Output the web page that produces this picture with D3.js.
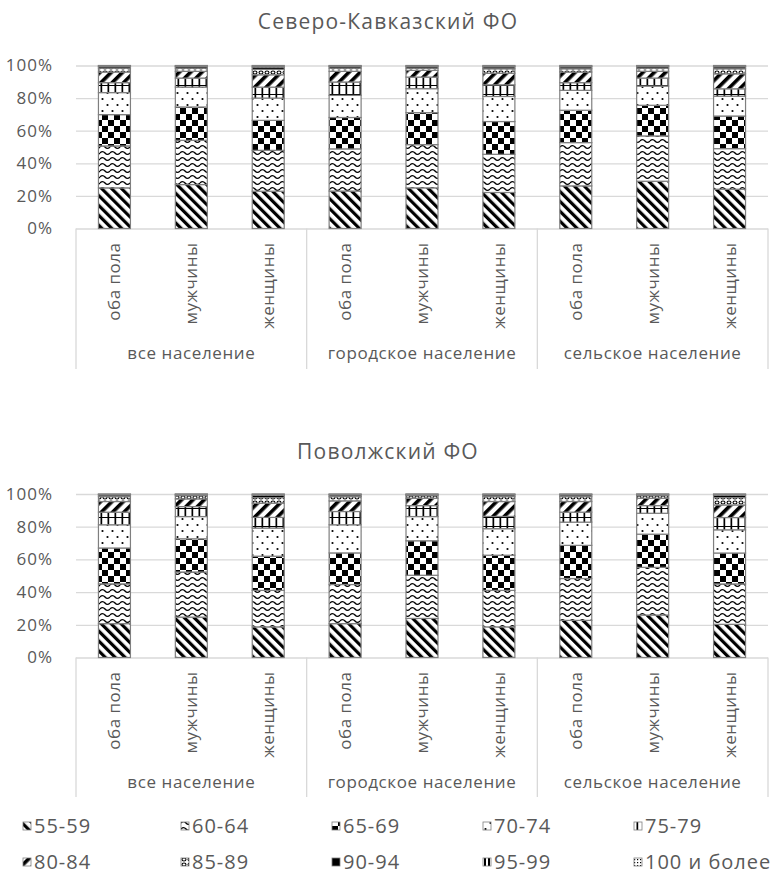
<!DOCTYPE html>
<html><head><meta charset="utf-8">
<script src="https://cdn.jsdelivr.net/npm/d3@7"></script>
<style>
body{margin:0;background:#fff}
svg{display:block}
text{font-family:"Open Sans",sans-serif;fill:#595959}
</style>
</head><body>
<svg id="c" width="776" height="874"></svg>
<script>
// ---- data ----
const ageGroups = ["55-59","60-64","65-69","70-74","75-79","80-84","85-89","90-94","95-99","100 и более"];
const sexLabels = ["оба пола","мужчины","женщины"];
const settlementLabels = ["все население","городское население","сельское население"];
const tickValues = [0,0.2,0.4,0.6,0.8,1];
const tickLabels = ["0%","20%","40%","60%","80%","100%"];
const chartTitles = ["Северо-Кавказский ФО","Поволжский ФО"];
// rows: все/оба, все/муж, все/жен, гор/оба, гор/муж, гор/жен, сел/оба, сел/муж, сел/жен
// columns: age groups 55-59 ... 100 и более (%)
const skfoValues = [
  [24.9,25.7,19.2,13.5,6.1,6.5,2.4,1.0,0.4,0.2],
  [26.9,27.1,20.4,12.2,5.5,4.1,2.0,1.0,0.4,0.2],
  [22.9,25.1,18.4,13.7,6.7,7.6,3.3,1.4,0.7,0.3],
  [22.9,25.8,19.2,13.5,8.2,6.5,2.0,1.0,0.4,0.2],
  [24.9,26.5,19.6,14.7,7.1,4.1,1.4,1.0,0.4,0.2],
  [22.0,23.3,20.0,15.3,7.1,7.1,2.7,1.2,0.5,0.3],
  [26.1,26.5,19.8,12.2,4.7,6.5,2.0,1.2,0.5,0.3],
  [29.0,27.8,18.8,11.8,4.9,4.1,2.0,1.0,0.4,0.2],
  [24.1,24.9,20.0,12.2,4.5,9.2,3.1,1.2,0.5,0.3]
];
const pfoValues = [
  [20.7,24.3,21.9,14.2,7.7,6.5,3.0,1.0,0.4,0.2],
  [24.7,27.6,20.3,13.6,6.1,4.7,2.0,0.6,0.3,0.1],
  [18.7,22.3,20.9,17.2,6.5,8.7,3.4,1.4,0.6,0.2],
  [20.7,23.9,19.3,17.2,8.1,6.5,2.6,1.0,0.4,0.2],
  [23.9,26.4,21.1,14.8,6.7,4.5,1.6,0.6,0.3,0.1],
  [18.7,22.3,21.5,16.2,7.5,9.1,3.0,1.0,0.4,0.2],
  [22.7,25.6,20.3,14.2,6.1,6.5,3.0,1.0,0.4,0.2],
  [26.0,29.2,20.3,12.8,4.7,4.5,1.6,0.6,0.3,0.1],
  [20.3,24.7,18.9,14.2,7.5,7.7,4.5,1.4,0.6,0.2]
];

// ---- drawing ----
const svg = d3.select("#c");
const defs = svg.append("defs");
function pat(id, w, h, transform, draw){
  const p = defs.append("pattern").attr("id", id).attr("patternUnits","userSpaceOnUse")
    .attr("width", w).attr("height", h);
  if (transform) p.attr("patternTransform", transform);
  p.append("rect").attr("width", w).attr("height", h).attr("fill","#fff");
  draw(p);
}
pat("p0", 7, 7, "rotate(-45)", p => p.append("rect").attr("width",3.2).attr("height",7).attr("fill","#000"));
pat("p1", 10, 6, null, p => p.append("path").attr("d","M0,3 Q2.5,0.2 5,3 T10,3").attr("fill","none").attr("stroke","#000").attr("stroke-width",1.4));
pat("p2", 12, 12, null, p => { p.append("rect").attr("width",6).attr("height",6).attr("fill","#000");
  p.append("rect").attr("x",6).attr("y",6).attr("width",6).attr("height",6).attr("fill","#000"); });
pat("p3", 10, 12, null, p => { p.append("circle").attr("cx",2.5).attr("cy",3).attr("r",1.1).attr("fill","#000");
  p.append("circle").attr("cx",7.5).attr("cy",9).attr("r",1.1).attr("fill","#000"); });
pat("p4", 7, 9, null, p => { p.append("rect").attr("x",2.5).attr("width",1.7).attr("height",9).attr("fill","#000");
  p.append("rect").attr("y",4).attr("width",7).attr("height",1).attr("fill","#000"); });
pat("p5", 8, 8, "rotate(45)", p => p.append("rect").attr("width",3.6).attr("height",8).attr("fill","#000"));
pat("p6", 6, 5, null, p => p.append("ellipse").attr("cx",3).attr("cy",2.5).attr("rx",2).attr("ry",1.5).attr("fill","none").attr("stroke","#000").attr("stroke-width",1.1));
pat("p7", 4, 4, null, p => p.append("rect").attr("width",4).attr("height",4).attr("fill","#000"));
pat("p8", 4, 4, null, p => p.append("rect").attr("x",1).attr("width",2).attr("height",4).attr("fill","#000"));
pat("p9", 3, 3, null, p => p.append("rect").attr("width",1.2).attr("height",1.2).attr("fill","#000"));

const plotLeft = 76, plotRight = 768;
const x = d3.scaleBand().domain(d3.range(9)).range([plotLeft, plotRight])
  .paddingInner(0.584).paddingOuter(0.292);

function drawChart(values, title, cfg){
  const g = svg.append("g");
  const y = d3.scaleLinear().domain([0,1]).range([cfg.y0, cfg.y1]);
  g.append("text").attr("x", 388).attr("y", cfg.titleY).attr("dy","0.35em")
    .attr("text-anchor","middle").style("font-size","21px").style("letter-spacing","1.2px").text(title);

  const axis = d3.axisLeft(y).tickValues(tickValues).tickFormat((d,i)=>tickLabels[i])
    .tickSize(-(plotRight - plotLeft)).tickPadding(23);
  const ag = g.append("g").attr("transform", `translate(${plotLeft},0)`).call(axis);
  ag.select(".domain").remove();
  ag.selectAll("line").attr("stroke","#d9d9d9").attr("stroke-width",1.3);
  ag.selectAll("text").attr("fill","#595959").style("font-size","17px").style("letter-spacing","1px").attr("font-family", null);

  const series = d3.stack().keys(d3.range(ageGroups.length)).offset(d3.stackOffsetExpand)(values);
  g.selectAll("g.s").data(series).join("g").attr("class","s")
    .attr("fill", (d,i)=>`url(#p${i})`)
    .selectAll("rect").data(d=>d).join("rect")
    .attr("x", (d,i)=>x(i)).attr("width", x.bandwidth())
    .attr("y", d=>y(d[1])).attr("height", d=>y(d[0]) - y(d[1]))
    .attr("stroke","#7f7f7f").attr("stroke-width",1.2);

  // category box lines
  const bounds = [0,3,6].map(i => x(i) - x.step()*x.paddingOuter()).concat([plotRight]);
  g.selectAll("line.box").data(bounds).join("line").attr("class","box")
    .attr("x1", d=>d).attr("x2", d=>d).attr("y1", cfg.y0).attr("y2", cfg.boxBottom)
    .attr("stroke","#d9d9d9").attr("stroke-width",1.3);

  // sex labels (rotated)
  g.selectAll("text.cat").data(d3.range(9)).join("text").attr("class","cat")
    .attr("transform", i => `translate(${x(i) + x.bandwidth()/2},${cfg.y0 + 14}) rotate(-90)`)
    .attr("text-anchor","end").attr("dy","0.35em").style("font-size","17px").style("letter-spacing","0.5px")
    .text(i => sexLabels[i % 3]);
  // settlement labels
  g.selectAll("text.grp").data(settlementLabels).join("text").attr("class","grp")
    .attr("x", (d,i)=> (bounds[i] + bounds[i+1]) / 2).attr("y", cfg.groupY).attr("dy","0.35em")
    .attr("text-anchor","middle").style("font-size","17px").style("letter-spacing","0.6px").text(d=>d);
}

drawChart(skfoValues, chartTitles[0], {titleY: 22, y0: 228.5, y1: 65.5, boxBottom: 369, groupY: 353});
drawChart(pfoValues, chartTitles[1], {titleY: 452, y0: 657.5, y1: 494, boxBottom: 797, groupY: 782});

// legend
const legendX = [23, 181, 332, 483, 634];
const legendY = [826, 862];
const lg = svg.append("g").selectAll("g").data(ageGroups).join("g")
  .attr("transform", (d,i)=>`translate(${legendX[i % 5]},${legendY[Math.floor(i/5)]})`);
lg.append("rect").attr("x",0).attr("y",-4).attr("width",8).attr("height",8)
  .attr("fill",(d,i)=>`url(#p${i})`).attr("stroke","#7f7f7f").attr("stroke-width",0.8);
lg.append("text").attr("x",11).attr("dy","0.35em").style("font-size","20px").style("letter-spacing","1px").text(d=>d);
</script>
</body></html>
